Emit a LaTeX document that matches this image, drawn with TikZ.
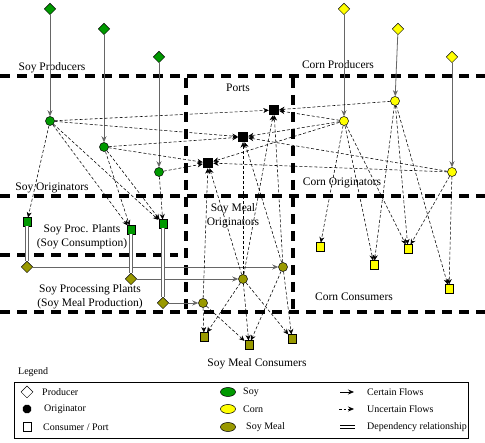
\documentclass[tikz,border=0pt]{standalone}
\usepackage{fontspec}
\setmainfont{Liberation Serif}
\usetikzlibrary{shapes.geometric,arrows.meta}
\definecolor{soyg}{RGB}{0,153,0}
\definecolor{cornY}{RGB}{255,255,0}
\definecolor{mealO}{RGB}{153,153,0}
\begin{document}
\begin{tikzpicture}[x=1pt,y=-1pt,
 zone/.style={line width=3.5pt,dash pattern=on 10pt off 7pt},
 cert/.style={draw=black!60,line width=0.8pt,-{Stealth[length=6pt,width=5pt]}},
 unc/.style={draw=black,line width=0.55pt,dash pattern=on 3pt off 2pt,-{Stealth[length=5.5pt,width=5pt]}},
 dep/.style={draw=black!60,double=white,double distance=2pt,line width=0.6pt},
 prod/.style={diamond,draw=black,line width=0.5pt,inner sep=0pt,minimum width=11.5pt,minimum height=11.5pt},
 orig/.style={circle,draw=black,line width=0.5pt,inner sep=0pt,minimum size=9pt},
 cons/.style={rectangle,draw=black,line width=0.5pt,inner sep=0pt,minimum size=8.5pt},
 port/.style={rectangle,fill=black,inner sep=0pt,minimum size=10pt},
 lbl/.style={font=\fontsize{11.5}{13.5}\selectfont,align=center,inner sep=0pt},
 leg/.style={font=\fontsize{10}{12}\selectfont,anchor=west,inner sep=0pt}]
\useasboundingbox (0,0) rectangle (485,443);
\fill[white] (0,0) rectangle (485,443);

% zone lines
\draw[zone] (0,76) -- (485,76);
\draw[zone] (0,196) -- (485,196);
\draw[zone] (0,255) -- (178,255);
\draw[zone] (0,312) -- (485,312);
\draw[zone] (186,78) -- (186,312);
\draw[zone] (293,78) -- (293,312);

% labels
\node[lbl] (lSP) at (52,68) {Soy Producers};
\node[lbl] (lCP) at (338,65) {Corn Producers};
\node[lbl] (lPo) at (238,88) {Ports};
\node[lbl] (lSO) at (52,188) {Soy Originators};
\node[lbl] (lCO) at (342,183) {Corn Originators};
\node[lbl] (lPP) at (82,237) {Soy Proc. Plants\\(Soy Consumption)};
\node[lbl] (lMO) at (233,216) {Soy Meal\\Originators};
\node[lbl] (lSPP) at (90,297) {Soy Processing Plants\\(Soy Meal Production)};
\node[lbl] (lCC) at (354,297) {Corn Consumers};
\node[lbl] (lMC) at (257,364) {Soy Meal Consumers};

% soy producers and originators
\node[prod,fill=soyg] (P1) at (50,9) {};
\node[prod,fill=soyg] (P2) at (104,29) {};
\node[prod,fill=soyg] (P3) at (159,57) {};
\node[orig,fill=soyg] (O1) at (50,121) {};
\node[orig,fill=soyg] (O2) at (104,147) {};
\node[orig,fill=soyg] (O3) at (159,172) {};
% corn
\node[prod,fill=cornY] (CP1) at (344,9) {};
\node[prod,fill=cornY] (CP2) at (398,29) {};
\node[prod,fill=cornY] (CP3) at (452,57) {};
\node[orig,fill=cornY] (CO1) at (344,121) {};
\node[orig,fill=cornY] (CO2) at (395,101) {};
\node[orig,fill=cornY] (CO3) at (452,172) {};
% ports
\node[port] (PA) at (274,110) {};
\node[port] (PB) at (243,137) {};
\node[port] (PC) at (208,163) {};
% soy processing plants
\node[cons,fill=soyg] (SP1) at (27,222) {};
\node[cons,fill=soyg] (SP2) at (131,230) {};
\node[cons,fill=soyg] (SP3) at (163,224) {};
\node[prod,fill=mealO] (SD1) at (27,267) {};
\node[prod,fill=mealO] (SD2) at (131,279) {};
\node[prod,fill=mealO] (SD3) at (163,303) {};
% soy meal originators
\node[orig,fill=mealO] (M1) at (203,303) {};
\node[orig,fill=mealO] (M2) at (243,279) {};
\node[orig,fill=mealO] (M3) at (283,267) {};
% soy meal consumers
\node[cons,fill=mealO] (MC1) at (204,337) {};
\node[cons,fill=mealO] (MC2) at (249,345) {};
\node[cons,fill=mealO] (MC3) at (292,339) {};
% corn consumers
\node[cons,fill=cornY] (CC1) at (320,247) {};
\node[cons,fill=cornY] (CC2) at (374,265) {};
\node[cons,fill=cornY] (CC3) at (408,249) {};
\node[cons,fill=cornY] (CC4) at (449,289) {};

% certain flows
\foreach \a/\b in {P1/O1,P2/O2,P3/O3,CP1/CO1,CP2/CO2,CP3/CO3}
  \draw[cert] (\a) -- (\b);
\draw[cert] (SD1) -- (M3);
\draw[cert] (SD2) -- (M2);
\draw[cert] (SD3) -- (M1);

% dependency
\draw[dep] (SP1) -- (SD1);
\draw[dep] (SP2) -- (SD2);
\draw[dep] (SP3) -- (SD3);

% uncertain flows
\foreach \a/\b in {O1/PA,O1/PB,O2/PB,O2/PC,O3/PC,
  CO1/PA,CO2/PA,CO1/PB,CO3/PB,CO1/PC,CO3/PC,
  M2/PA,M3/PA,M2/PB,M3/PB,M1/PC,M2/PC,
  O1/SP1,O1/SP2,O1/SP3,O2/SP2,O2/SP3,O3/SP3,
  CO1/CC1,CO1/CC2,CO1/CC3,CO2/CC2,CO2/CC3,CO2/CC4,CO3/CC3,CO3/CC4,
  M1/MC1,M1/MC2,M2/MC1,M2/MC2,M2/MC3,M3/MC2,M3/MC3}
  \draw[unc] (\a) -- (\b);

% legend
\node[leg] (lLeg) at (18,372) {Legend};
\node[draw=black,line width=0.7pt,minimum width=454pt,minimum height=56pt,inner sep=0pt] (box) at (241,410) {};
\node[diamond,draw=black,fill=white,line width=0.5pt,inner sep=0pt,minimum width=12pt,minimum height=12pt] (kP) at (27,392) {};
\node[regular polygon,regular polygon sides=8,fill=black,inner sep=0pt,minimum size=9pt] (kO) at (27,409) {};
\node[cons,fill=white] (kC) at (27,427) {};
\node[leg] (tP) at (42,392) {Producer};
\node[leg] (tO) at (44,409) {Originator};
\node[leg] (tC) at (43,427) {Consumer / Port};
\node[ellipse,draw=black,line width=0.5pt,fill=soyg,minimum width=15pt,minimum height=9pt,inner sep=0pt] (kS) at (228,392) {};
\node[ellipse,draw=black,line width=0.5pt,fill=cornY,minimum width=15pt,minimum height=9pt,inner sep=0pt] (kCo) at (228,409) {};
\node[ellipse,draw=black,line width=0.5pt,fill=mealO,minimum width=15pt,minimum height=9pt,inner sep=0pt] (kM) at (228,427) {};
\node[leg] (tS) at (243,392) {Soy};
\node[leg] (tCo) at (243,409) {Corn};
\node[leg] (tM) at (246,427) {Soy Meal};
\coordinate (a1) at (340,392); \coordinate (a2) at (354,392);
\coordinate (b1) at (339,409); \coordinate (b2) at (354,409);
\coordinate (c1) at (340,427); \coordinate (c2) at (355,427);
\draw[line width=0.7pt,-{Stealth[length=6pt,width=5pt]}] (a1) -- (a2);
\draw[line width=0.7pt,dash pattern=on 2.5pt off 2pt,-{Stealth[length=6pt,width=5pt]}] (b1) -- (b2);
\draw[line width=0.6pt,double=white,double distance=2pt] (c1) -- (c2);
\node[leg] (tCF) at (367,392) {Certain Flows};
\node[leg] (tUF) at (367,409) {Uncertain Flows};
\node[leg] (tDR) at (367,427) {Dependency relationship};
\end{tikzpicture}
\end{document}
